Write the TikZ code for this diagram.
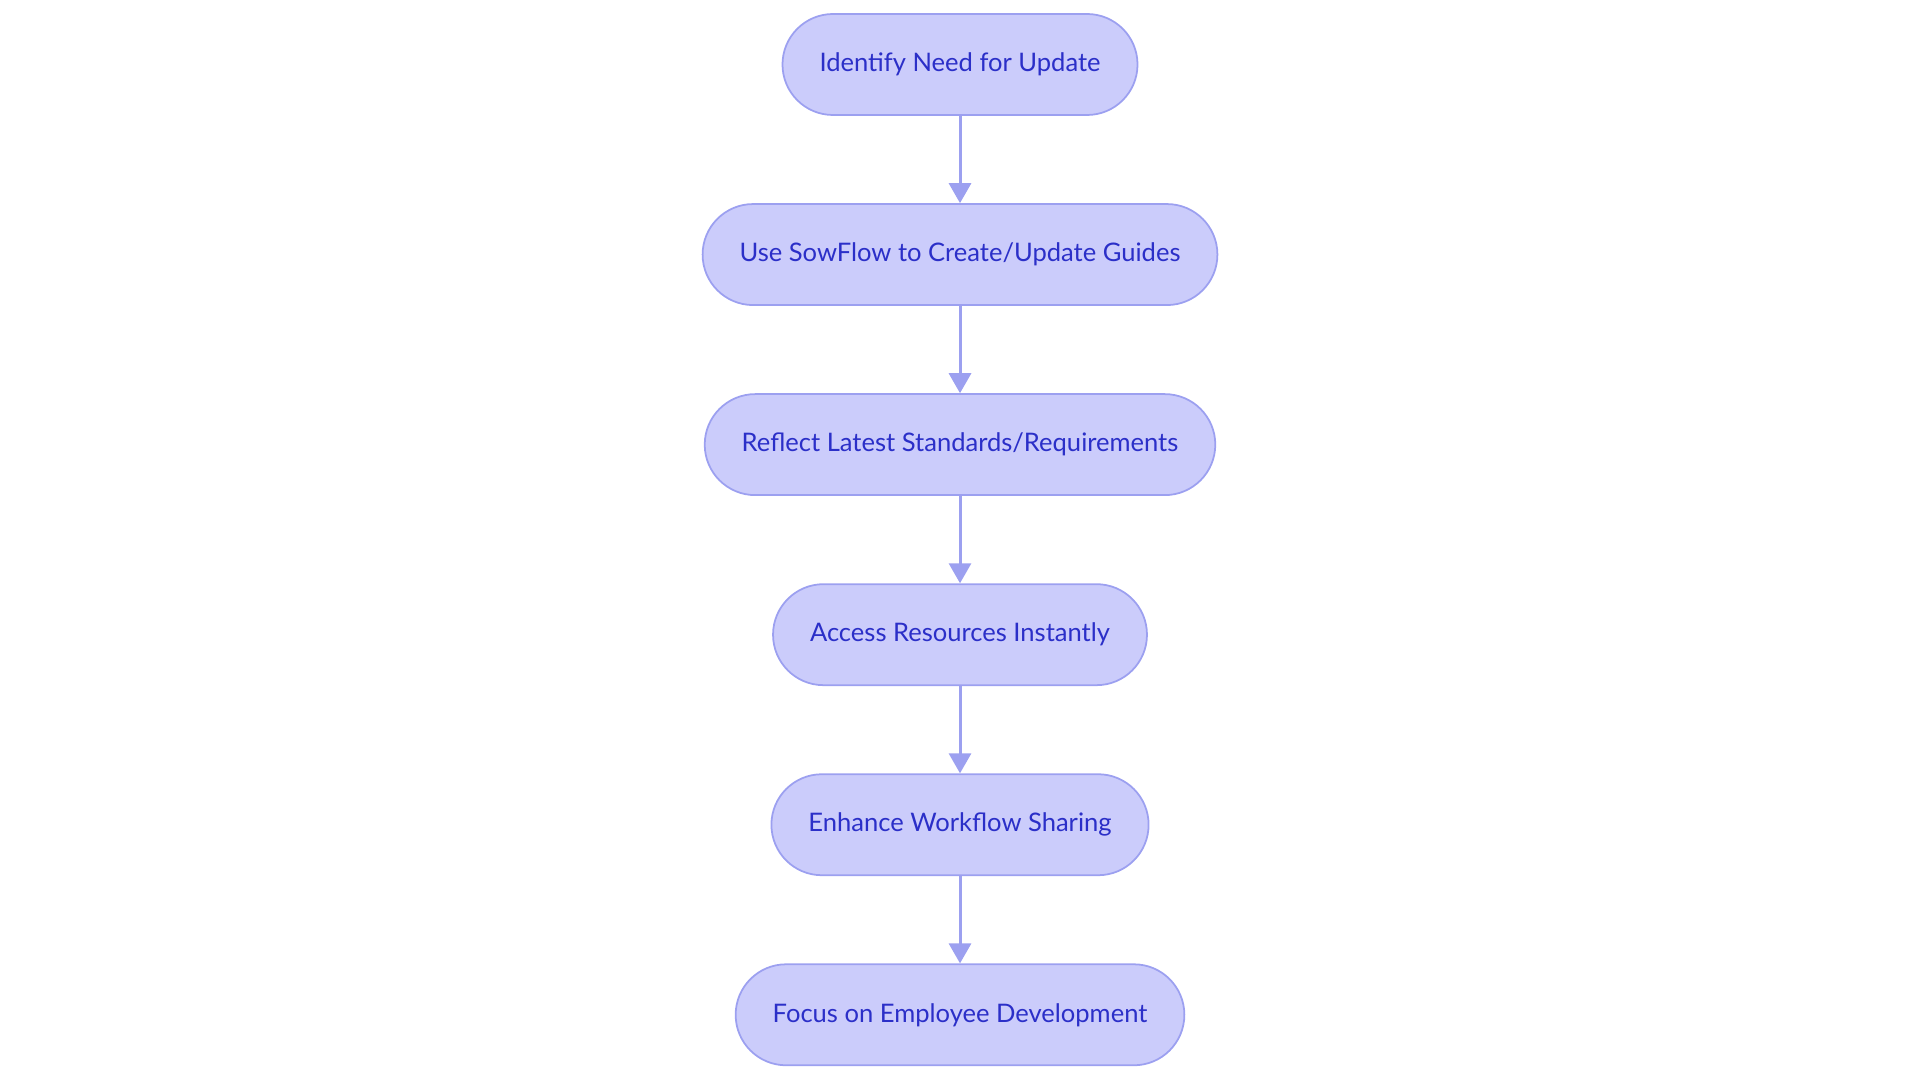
\documentclass[tikz,border=0pt]{standalone}
\usepackage{fontspec}
\setmainfont{Lato}
\usepackage{tikz}
\usetikzlibrary{positioning}
\usetikzlibrary{arrows.meta}

\definecolor{stepfill}{HTML}{CBCCFB}
\definecolor{stepline}{HTML}{9CA0F0}
\definecolor{steptext}{HTML}{2B2FC8}

\begin{document}
\begin{tikzpicture}[
      stepbox/.style={draw=stepline,fill=stepfill,line width=0.5pt,
        rounded corners=0.505cm,minimum height=1.01cm,inner xsep=0.37cm,
        text=steptext,font=\fontsize{7.27pt}{9pt}\selectfont},
      flow/.style={draw=stepline,line width=0.85pt,
        -{Triangle[length=0.2cm,width=0.22cm]}},
      node distance=0.873cm,
    ]
        \useasboundingbox (0,0) rectangle (19.2,-10.83);
        \node[stepbox] (ident) at (9.6,-0.645) {Identify Need for Update};
        \node[stepbox,below=of ident] (usesow) {Use SowFlow to Create/Update Guides};
        \node[stepbox,below=of usesow] (reflect) {Reflect Latest Standards/Requirements};
        \node[stepbox,below=of reflect] (access) {Access Resources Instantly};
        \node[stepbox,below=of access] (enhance) {Enhance Workflow Sharing};
        \node[stepbox,below=of enhance] (focus) {Focus on Employee Development};

        \draw[flow] (ident) -- (usesow);
        \draw[flow] (usesow) -- (reflect);
        \draw[flow] (reflect) -- (access);
        \draw[flow] (access) -- (enhance);
        \draw[flow] (enhance) -- (focus);
    \end{tikzpicture}
\end{document}
